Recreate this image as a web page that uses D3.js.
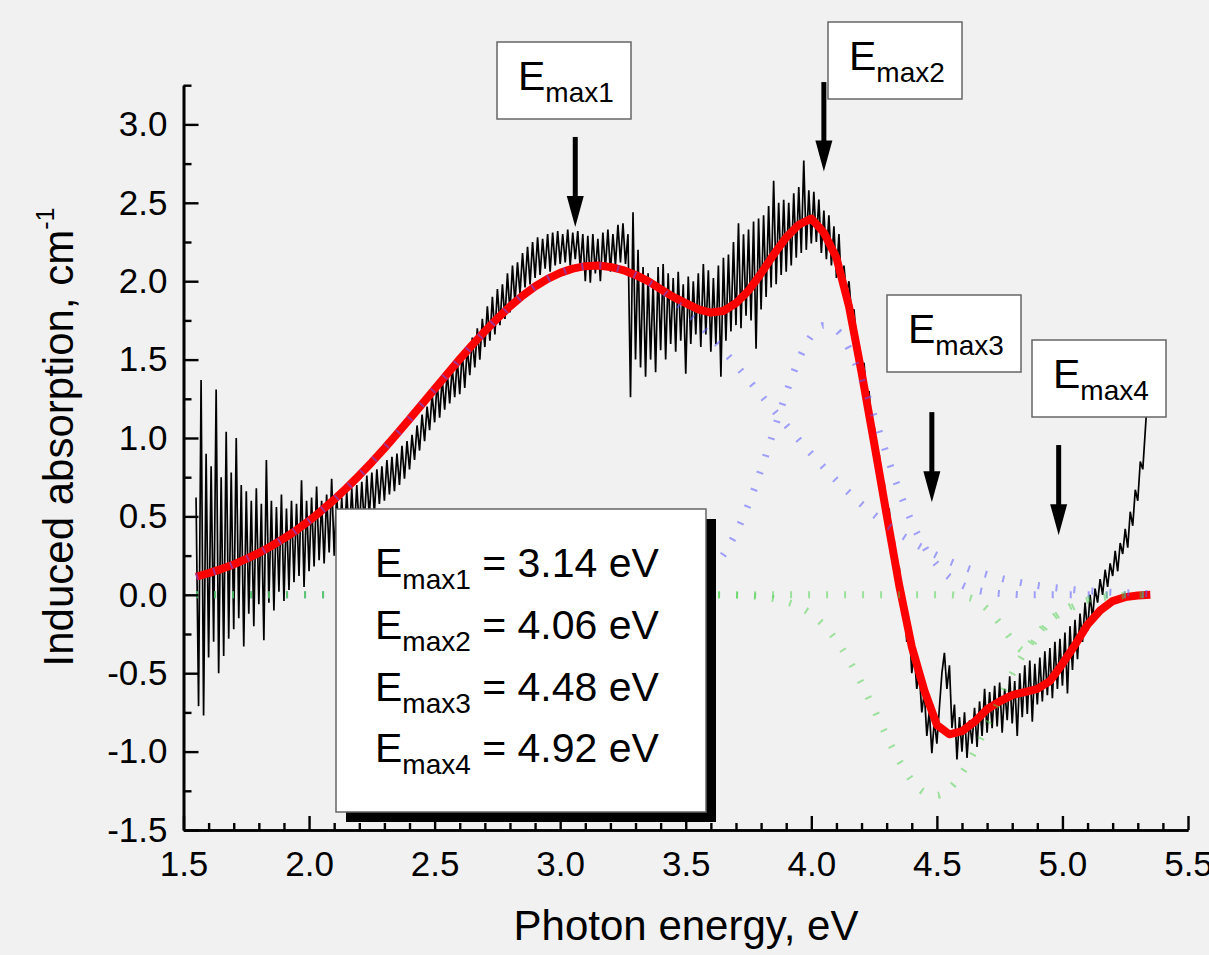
<!DOCTYPE html>
<html><head><meta charset="utf-8">
<script src="https://cdn.jsdelivr.net/npm/d3@7"></script>
<style>
html,body{margin:0;padding:0;background:#f1f1f1;}
svg{display:block;font-family:"Liberation Sans",Arial,sans-serif;}
</style></head><body>
<svg id="chart" width="1209" height="955"></svg>
<script>
// ---------------- data ----------------
// measured spectrum, sampled every 0.01 eV from 1.55 eV
const spectrumStart = 1.55, spectrumStep = 0.01;
const absorption = [
0.62,-0.71,1.37,-0.77,0.9,-0.4,0.82,-0.3,1.31,-0.5,
0.75,-0.39,1.04,-0.28,0.78,-0.22,1.0,-0.15,0.7,-0.33,
0.66,-0.12,0.6,-0.2,0.68,-0.06,0.58,-0.29,0.86,-0.05,
0.6,-0.1,0.56,0.02,0.64,-0.04,0.55,0.03,0.6,0.08,
0.58,0.12,0.73,0.05,0.6,0.15,0.62,0.18,0.69,0.22,
0.6,0.2,0.64,0.27,0.74,0.25,0.65,0.3,0.62,0.32,
0.66,0.35,0.68,0.38,0.7,0.42,0.72,0.45,0.76,0.5,
0.78,0.52,0.8,0.58,0.82,0.6,0.86,0.64,0.88,0.66,
0.9,0.7,0.95,0.74,0.98,0.8,1.02,0.86,1.08,0.92,
1.15,0.98,1.2,1.05,1.28,1.1,1.36,1.13,1.38,1.18,
1.42,1.22,1.45,1.26,1.5,1.28,1.55,1.32,1.58,1.4,
1.64,1.45,1.7,1.5,1.76,1.58,1.84,1.62,1.9,1.66,
1.95,1.72,1.98,1.76,2.05,1.8,2.1,1.86,2.12,1.92,
2.18,1.96,2.22,1.98,2.25,2.02,2.28,2.04,2.27,2.08,
2.3,2.06,2.31,2.1,2.32,2.11,2.3,2.12,2.33,2.1,
2.31,2.14,2.32,2.08,2.3,2.0,2.29,1.99,2.3,2.05,
2.27,2.0,2.31,2.08,2.33,2.06,2.3,2.1,2.36,2.12,
2.37,2.11,2.3,1.26,2.44,1.5,2.2,1.45,2.09,1.39,
2.05,1.5,2.0,1.42,2.09,1.56,2.11,1.5,2.05,1.6,
2.02,1.55,2.06,1.62,1.98,1.41,2.03,1.6,2.0,1.66,
2.05,1.58,2.11,1.66,2.07,1.55,2.02,1.6,2.1,1.39,
2.15,1.62,2.17,1.68,2.25,1.72,2.37,1.7,2.3,1.78,
2.33,1.75,2.38,1.57,2.4,1.82,2.42,1.9,2.48,1.96,
2.64,1.98,2.5,2.04,2.52,2.06,2.5,2.1,2.56,2.15,
2.6,2.18,2.77,2.2,2.58,2.24,2.57,2.25,2.52,2.18,
2.45,2.14,2.42,2.1,2.35,2.02,2.3,1.96,2.1,1.92,
2.0,1.8,1.82,1.62,1.6,1.42,1.48,1.26,1.3,1.05,
1.08,0.9,0.9,0.7,0.72,0.52,0.55,0.34,0.35,0.12,
0.18,-0.05,-0.02,-0.3,-0.2,-0.5,-0.38,-0.6,-0.5,-0.75,
-0.62,-0.9,-0.74,-1.01,-0.8,-0.95,-0.72,-0.5,-0.37,-0.6,
-0.45,-0.85,-0.7,-1.05,-0.78,-1.0,-0.75,-1.04,-0.8,-0.95,
-0.72,-0.97,-0.68,-0.9,-0.6,-0.88,-0.62,-0.85,-0.58,-0.84,
-0.56,-0.88,-0.6,-0.8,-0.52,-0.82,-0.55,-0.9,-0.5,-0.78,
-0.45,-0.76,-0.42,-0.81,-0.44,-0.7,-0.4,-0.68,-0.36,-0.64,
-0.34,-0.66,-0.3,-0.6,-0.28,-0.58,-0.24,-0.63,-0.2,-0.48,
-0.16,-0.41,-0.12,-0.3,-0.05,-0.23,0.0,-0.15,0.04,-0.05,
0.1,0.0,0.16,0.05,0.2,0.12,0.28,0.15,0.33,0.26,
0.42,0.3,0.53,0.44,0.67,0.6,0.85,0.8,1.05,1.3
];

// fit and Gaussian components, sampled every 0.05 eV from 1.55 to 5.35 eV
const fitStart = 1.55, fitStep = 0.05;
const fitTotal = [
0.115,0.138,0.164,0.194,0.229,0.267,0.311,0.360,0.413,0.472,
0.537,0.607,0.682,0.762,0.846,0.934,1.026,1.120,1.216,1.313,
1.408,1.503,1.594,1.681,1.763,1.839,1.907,1.966,2.015,2.053,
2.080,2.096,2.100,2.091,2.071,2.040,2.000,1.950,1.900,1.860,
1.820,1.800,1.810,1.860,1.940,2.050,2.170,2.280,2.360,2.400,
2.310,2.150,1.840,1.420,0.970,0.510,0.060,-0.330,-0.610,-0.830,
-0.890,-0.870,-0.810,-0.730,-0.680,-0.640,-0.620,-0.600,-0.550,-0.440,
-0.320,-0.190,-0.100,-0.040,-0.015,-0.005,0.0
];
const peak1 = [
0.115,0.138,0.164,0.194,0.229,0.267,0.311,0.360,0.413,0.472,
0.537,0.607,0.682,0.762,0.846,0.934,1.026,1.120,1.216,1.313,
1.408,1.503,1.594,1.681,1.763,1.839,1.907,1.966,2.015,2.053,
2.080,2.096,2.100,2.091,2.071,2.039,1.996,1.943,1.881,1.810,
1.731,1.647,1.558,1.465,1.370,1.274,1.177,1.082,0.989,0.899,
0.812,0.729,0.651,0.578,0.511,0.448,0.391,0.340,0.293,0.251,
0.214,0.182,0.153,0.129,0.107,0.089,0.073,0.060,0.049,0.040,
0.032,0.026,0.020,0.016,0.013,0.010,0.008
];
const peak2 = [
0,0,0,0,0,0,0,0,0,0,
0,0,0,0,0,0,0,0,0,0,
0,0,0,0,0,0,0,0,0,0,
0,0,0,0,0,0.003,0.006,0.012,0.025,0.049,
0.090,0.156,0.256,0.396,0.578,0.799,1.043,1.287,1.500,1.651,
1.718,1.689,1.569,1.377,1.142,0.895,0.663,0.464,0.307,0.192,
0.113,0.063,0.033,0.017,0.008,0.004,0,0,0,0,
0,0,0,0,0,0,0
];
const peak3 = [
0,0,0,0,0,0,0,0,0,0,
0,0,0,0,0,0,0,0,0,0,
0,0,0,0,0,0,0,0,0,0,
0,0,0,0,0,0,0,0,0,0,
0,-0.001,-0.002,-0.003,-0.006,-0.013,-0.024,-0.044,-0.075,-0.124,
-0.195,-0.292,-0.417,-0.566,-0.732,-0.902,-1.058,-1.183,-1.260,-1.279,
-1.236,-1.138,-0.998,-0.834,-0.664,-0.504,-0.364,-0.250,-0.164,-0.102,
-0.061,-0.035,-0.019,-0.010,-0.005,-0.002,0
];
const peak4 = [
0,0,0,0,0,0,0,0,0,0,
0,0,0,0,0,0,0,0,0,0,
0,0,0,0,0,0,0,0,0,0,
0,0,0,0,0,0,0,0,0,0,
0,0,0,0,0,0,0,0,0,0,
0,0,0,0,0,0,0,0,0,0,
0,-0.01,-0.03,-0.09,-0.18,-0.29,-0.36,-0.27,-0.17,-0.11,
-0.07,-0.03,-0.01,0,0,0,0
];

const xTicks = [1.5, 2.0, 2.5, 3.0, 3.5, 4.0, 4.5, 5.0, 5.5];
const yTicks = [-1.5, -1.0, -0.5, 0.0, 0.5, 1.0, 1.5, 2.0, 2.5, 3.0];
const peakNames = ["max1", "max2", "max3", "max4"];
const peakEnergies = ["3.14", "4.06", "4.48", "4.92"];
// arrow annotations (energy, top value, tip value)
const arrowEnergy = [3.06, 4.05, 4.48, 4.985];
const arrowTop = [2.92, 3.27, 1.165, 0.955];
const arrowTip = [2.345, 2.70, 0.59, 0.38];

// ---------------- layout ----------------
const svg = d3.select("#chart");
svg.append("rect").attr("width",1209).attr("height",955).attr("fill","#f1f1f1");
const x = d3.scaleLinear().domain([1.5, 5.5]).range([183.5, 1188]);
const y = d3.scaleLinear().domain([-1.5, 3.25]).range([830, 85.2]);

const spectrum = absorption.map((v,i)=>({e: spectrumStart + i*spectrumStep, v}));
const fitE = fitTotal.map((_,i)=> +(fitStart + i*fitStep).toFixed(2));

const g = svg.append("g");

// measured spectrum
g.append("path")
  .attr("d", d3.line().x(d=>x(d.e)).y(d=>y(d.v))(spectrum))
  .attr("fill","none").attr("stroke","#000").attr("stroke-width",1.7)
  .attr("stroke-linejoin","bevel");

// total fit
g.append("path")
  .attr("d", d3.line().x((d,i)=>x(fitE[i])).y(d=>y(d))(fitTotal))
  .attr("fill","none").attr("stroke","#ff0000").attr("stroke-width",8)
  .attr("stroke-linejoin","round");

// components
const compLine = d3.line().x((d,i)=>x(fitE[i])).y(d=>y(d)).curve(d3.curveMonotoneX);
[[peak1,"rgba(90,90,255,0.55)"],[peak2,"rgba(90,90,255,0.55)"],
 [peak3,"rgba(70,210,70,0.5)"],[peak4,"rgba(70,210,70,0.5)"]].forEach(([arr,col])=>{
  g.append("path").attr("d", compLine(arr))
   .attr("fill","none").attr("stroke",col).attr("stroke-width",7)
   .attr("stroke-dasharray","2,16").attr("stroke-linecap","butt");
});

// ---------------- axes ----------------
const fmt = d => d.toFixed(1);
const axisStyle = sel => {
  sel.selectAll("path.domain").attr("stroke","#000").attr("stroke-width",2.6);
  sel.selectAll(".tick line").attr("stroke","#000").attr("stroke-width",2.4);
  sel.selectAll(".tick text").attr("font-size",35).attr("fill","#000")
     .attr("font-family","'Liberation Sans', Arial, sans-serif");
};
const yMinor = d3.range(-1.25, 3.3, 0.5);
const xMinor = d3.range(15, 56, 1).map(d=>d/10).filter(d=> Math.round(d*10)%5 !== 0);

svg.append("g").attr("transform",`translate(${x(1.5)},0)`)
  .call(d3.axisLeft(y).tickValues(yMinor).tickFormat("").tickSizeInner(-8).tickSizeOuter(0))
  .call(axisStyle);
svg.append("g").attr("transform",`translate(${x(1.5)},0)`)
  .call(d3.axisLeft(y).tickValues(yTicks).tickFormat(fmt).tickSizeInner(-15).tickSizeOuter(0).tickPadding(16))
  .call(axisStyle);
svg.append("g").attr("transform",`translate(0,${y(-1.5)})`)
  .call(d3.axisBottom(x).tickValues(xMinor).tickFormat("").tickSizeInner(-7).tickSizeOuter(0))
  .call(axisStyle);
svg.append("g").attr("transform",`translate(0,${y(-1.5)})`)
  .call(d3.axisBottom(x).tickValues(xTicks).tickFormat(fmt).tickSizeInner(-14).tickSizeOuter(0).tickPadding(21))
  .call(axisStyle);

// axis titles
svg.append("text").attr("x",686).attr("y",940).attr("text-anchor","middle")
  .attr("font-size",42).text("Photon energy, eV");
const yt = svg.append("text").attr("transform","translate(73,437) rotate(-90)")
  .attr("text-anchor","middle").attr("font-size",42);
yt.append("tspan").text("Induced absorption, cm");
yt.append("tspan").attr("font-size",25).attr("dy",-19).text("-1");

// ---------------- legend box ----------------
svg.append("rect").attr("x",346).attr("y",519).attr("width",370).attr("height",303).attr("fill","#000");
svg.append("rect").attr("x",336).attr("y",509).attr("width",370).attr("height",303)
  .attr("fill","#fff").attr("stroke","#666").attr("stroke-width",1.5);
peakNames.forEach((n,i)=>{
  const t = svg.append("text").attr("x",375).attr("y",577 + i*61.8).attr("font-size",41);
  t.append("tspan").text("E");
  t.append("tspan").attr("font-size",28).attr("dy",12).text(n);
  t.append("tspan").attr("dy",-12).text(" = " + peakEnergies[i] + " eV");
});

// ---------------- peak label boxes + arrows ----------------
const labelBoxes = [[497,42],[828,22],[887,295],[1032,340]];
peakNames.forEach((n,i)=>{
  const [bx,by] = labelBoxes[i];
  svg.append("rect").attr("x",bx).attr("y",by).attr("width",134).attr("height",77)
    .attr("fill","#fff").attr("stroke","#666").attr("stroke-width",1.5);
  const t = svg.append("text").attr("x",bx+21).attr("y",by+48).attr("font-size",41);
  t.append("tspan").text("E");
  t.append("tspan").attr("font-size",28).attr("dy",12).text(n);

  const ax = x(arrowEnergy[i]), yTop = y(arrowTop[i]), yTipP = y(arrowTip[i]);
  const headH = 31, headW = 8.5;
  svg.append("line").attr("x1",ax).attr("x2",ax).attr("y1",yTop).attr("y2",yTipP-headH+2)
    .attr("stroke","#000").attr("stroke-width",5);
  svg.append("path").attr("d",`M${ax-headW},${yTipP-headH} L${ax+headW},${yTipP-headH} L${ax},${yTipP} Z`)
    .attr("fill","#000");
});
</script>
</body></html>
